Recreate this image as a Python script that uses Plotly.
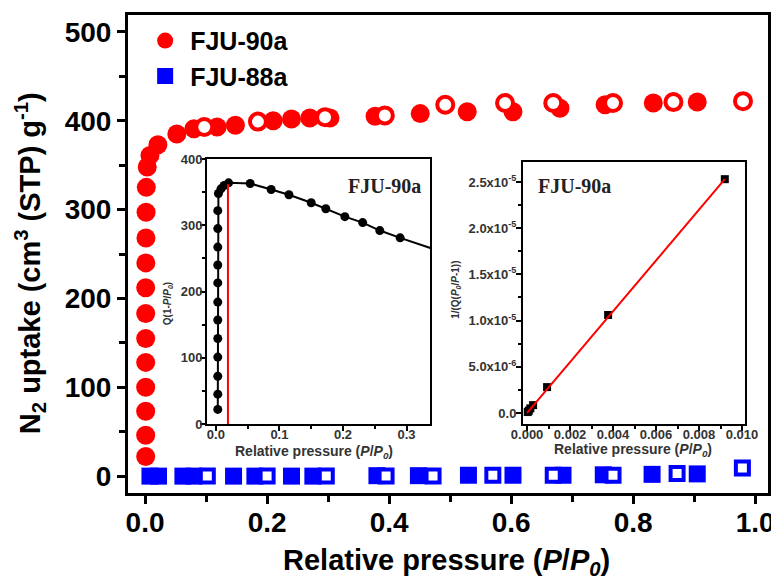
import plotly.graph_objects as go

# ---------------- data ----------------
# Main isotherm, FJU-90a (adsorption = filled, desorption = open)
fju90_ads_p = [0.0010, 0.0010, 0.0010, 0.0010, 0.0010, 0.0010, 0.0010, 0.0010, 0.0012, 0.0014,
               0.0016, 0.0020, 0.0035, 0.008, 0.021, 0.052, 0.080, 0.118, 0.148, 0.210,
               0.240, 0.270, 0.303, 0.377, 0.451, 0.528, 0.603, 0.680, 0.754, 0.833, 0.905]
fju90_ads_q = [22, 46, 73, 100, 128, 155, 183, 212, 240, 268,
               297, 325, 348, 361, 373, 385, 391, 393, 395, 400,
               402, 403, 403, 405, 408, 410, 410, 414, 418, 420, 421]
fju90_des_p = [0.097, 0.185, 0.295, 0.393, 0.492, 0.590, 0.669, 0.767, 0.866, 0.980]
fju90_des_q = [393, 399, 404, 406, 418, 420, 420, 420, 421, 422]

# Main isotherm, FJU-88a
fju88_ads_p = [0.008, 0.022, 0.062, 0.080, 0.145, 0.180, 0.240, 0.275, 0.380, 0.448,
               0.530, 0.603, 0.685, 0.751, 0.831, 0.905]
fju88_ads_q = [0, 0, 0, 0, 0, 0, 0, 0, 0.5, 0.5, 1, 1, 1, 1.5, 2, 2.5]
fju88_des_p = [0.102, 0.200, 0.297, 0.395, 0.472, 0.570, 0.669, 0.767, 0.872, 0.979]
fju88_des_q = [0, 0, 0, 0, 0, 1, 1, 1, 3, 9]

# Inset 1: Q(1-P/P0) vs P/P0
ins1_p = [0.003, 0.003, 0.003, 0.003, 0.003, 0.003, 0.003, 0.003, 0.003, 0.003,
          0.003, 0.003, 0.004, 0.008, 0.013, 0.020, 0.054, 0.087, 0.115, 0.150,
          0.173, 0.203, 0.231, 0.258, 0.290, 0.377]
ins1_q = [22, 45, 72, 101, 129, 157, 184, 213, 240, 267,
          295, 322, 348, 355, 360, 364, 363, 354, 346, 334,
          325, 313, 304, 292, 281, 253]
ins1_mark_p = [0.019, 0.019]
ins1_mark_q = [0, 362]

# Inset 2: BET plot 1/(Q(P0/P-1)) vs P/P0
ins2_p = [0.00003, 0.00008, 0.00015, 0.00028, 0.00093, 0.00377, 0.0092]
ins2_v = [1.0e-7, 2.5e-7, 5.0e-7, 8.5e-7, 2.8e-6, 1.06e-5, 2.53e-5]
ins2_fit_p = [0.0, 0.0092]
ins2_fit_v = [0.0, 2.53e-5]

main_xticks = [0.0, 0.2, 0.4, 0.6, 0.8, 1.0]
main_yticks = [0, 100, 200, 300, 400, 500]
ins1_xticks = [0.0, 0.1, 0.2, 0.3]
ins1_yticks = [0, 100, 200, 300, 400]
ins2_xticks = [0.000, 0.002, 0.004, 0.006, 0.008, 0.010]
ins2_xlabels = ["0.000", "0.002", "0.004", "0.006", "0.008", "0.010"]
ins2_yticks = [0.0, 5.0e-6, 1.0e-5, 1.5e-5, 2.0e-5, 2.5e-5]
ins2_ylabels = ["0.0", "5.0x10<sup>-6</sup>", "1.0x10<sup>-5</sup>", "1.5x10<sup>-5</sup>",
                "2.0x10<sup>-5</sup>", "2.5x10<sup>-5</sup>"]

RED = "#FF0000"
BLUE = "#0000FF"
SANS = "Liberation Sans, Arial, sans-serif"
SERIF = "Liberation Serif, Times New Roman, serif"
PP0 = "Relative pressure (<i>P</i>/<i>P</i><sub><i>0</i></sub>)"

fig = go.Figure()

# ---- main plot ----
fig.add_trace(go.Scatter(x=fju90_ads_p, y=fju90_ads_q, mode="markers", name="FJU-90a",
                         marker=dict(symbol="circle", size=19, color=RED, line=dict(width=0))))
fig.add_trace(go.Scatter(x=fju88_ads_p, y=fju88_ads_q, mode="markers", name="FJU-88a",
                         marker=dict(symbol="square", size=17, color=BLUE, line=dict(width=0))))
fig.add_trace(go.Scatter(x=fju90_des_p, y=fju90_des_q, mode="markers", showlegend=False,
                         marker=dict(symbol="circle", size=16, color="white",
                                     line=dict(width=4, color=RED))))
fig.add_trace(go.Scatter(x=fju88_des_p, y=fju88_des_q, mode="markers", showlegend=False,
                         marker=dict(symbol="square", size=13, color="white",
                                     line=dict(width=4, color=BLUE))))

# ---- inset 1 ----
fig.add_trace(go.Scatter(x=ins1_p, y=ins1_q, mode="lines+markers", showlegend=False,
                         xaxis="x2", yaxis="y2",
                         line=dict(color="black", width=2),
                         marker=dict(symbol="circle", size=9, color="black")))
fig.add_trace(go.Scatter(x=ins1_mark_p, y=ins1_mark_q, mode="lines", showlegend=False,
                         xaxis="x2", yaxis="y2", line=dict(color=RED, width=2)))

# ---- inset 2 ----
fig.add_trace(go.Scatter(x=ins2_p, y=ins2_v, mode="markers", showlegend=False,
                         xaxis="x3", yaxis="y3",
                         marker=dict(symbol="square", size=8, color="black")))
fig.add_trace(go.Scatter(x=ins2_fit_p, y=ins2_fit_v, mode="lines", showlegend=False,
                         xaxis="x3", yaxis="y3", line=dict(color=RED, width=2)))

main_font = dict(family=SANS, size=28, color="black", weight="bold")
ins_tick_font = dict(family=SANS, size=13, color="#333333", weight="bold")


def ax(**kw):
    base = dict(showline=True, mirror=True, linecolor="black", showgrid=False,
                zeroline=False, automargin=False, ticks="outside", tickcolor="black")
    base.update(kw)
    return base


# the page body has an 8 px margin, so the figure is drawn 8 px right and down
fig.update_layout(
    width=771, height=574,
    margin=dict(l=120, r=11, t=7, b=89),
    paper_bgcolor="white", plot_bgcolor="white",
    font=dict(family=SANS, color="black"),
    showlegend=True,
    legend=dict(x=0.019, y=0.994, xanchor="left", yanchor="top",
                bgcolor="rgba(0,0,0,0)", borderwidth=0,
                font=dict(family=SANS, size=25, color="black", weight="bold"),
                itemsizing="trace", itemwidth=40, tracegroupgap=0),
    xaxis=ax(domain=[0, 1], range=[-0.028, 1.021], tickvals=main_xticks,
             ticktext=[f"{v:.1f}" for v in main_xticks],
             ticklen=8, tickwidth=2.5, ticklabelstandoff=-6,
             minor=dict(dtick=0.1, tick0=0, ticks="outside", ticklen=6, tickwidth=2.5,
                        tickcolor="black"),
             linewidth=3, tickfont=main_font),
    yaxis=ax(domain=[0, 1], range=[-19, 519], tickvals=main_yticks,
             ticklen=8, tickwidth=2.5,
             minor=dict(dtick=50, tick0=0, ticks="outside", ticklen=6, tickwidth=2.5,
                        tickcolor="black"),
             linewidth=3, tickfont=main_font),
    xaxis2=ax(domain=[0.1234, 0.4719], anchor="y2", range=[-0.014, 0.337],
              tickvals=ins1_xticks, ticktext=[f"{v:.1f}" for v in ins1_xticks],
              ticklen=5, tickwidth=1.5, ticklabelstandoff=-8,
              minor=dict(dtick=0.05, tick0=0, ticks="outside", ticklen=3, tickwidth=1.5,
                         tickcolor="black"),
              linewidth=2, tickfont=ins_tick_font),
    yaxis2=ax(domain=[0.1444, 0.6987], anchor="x2", range=[0, 400],
              tickvals=ins1_yticks, ticklen=5, tickwidth=1.5, ticklabelstandoff=-5,
              minor=dict(dtick=50, tick0=0, ticks="outside", ticklen=3, tickwidth=1.5,
                         tickcolor="black"),
              linewidth=2, tickfont=ins_tick_font),
    xaxis3=ax(domain=[0.6172, 0.9641], anchor="y3", range=[-0.00019, 0.01014],
              tickvals=ins2_xticks, ticktext=ins2_xlabels, ticklen=5, tickwidth=1.5,
              ticklabelstandoff=-8,
              minor=dict(dtick=0.001, tick0=0, ticks="outside", ticklen=3, tickwidth=1.5,
                         tickcolor="black"),
              linewidth=2, tickfont=ins_tick_font),
    yaxis3=ax(domain=[0.1444, 0.6925], anchor="x3", range=[-1.19e-6, 2.716e-5],
              tickvals=ins2_yticks, ticktext=ins2_ylabels, ticklen=5, tickwidth=1.5,
              ticklabelstandoff=-3,
              minor=dict(dtick=2.5e-6, tick0=0, ticks="outside", ticklen=3, tickwidth=1.5,
                         tickcolor="black"),
              linewidth=2,
              tickfont=dict(family=SANS, size=13, color="#333333", weight="bold")),
    annotations=[
        # main axis titles
        dict(text=PP0, xref="paper", yref="paper", x=0.497, y=-0.144,
             xanchor="center", yanchor="middle", showarrow=False,
             font=dict(family=SANS, size=29, color="black", weight="bold")),
        dict(text="N<sub>2</sub> uptake (cm<sup>3</sup> (STP) g<sup>-1</sup>)",
             xref="paper", yref="paper", x=-0.153, y=0.481, textangle=-90,
             xanchor="center", yanchor="middle", showarrow=False,
             font=dict(family=SANS, size=29, color="black", weight="bold")),
        # inset 1 titles
        dict(text=PP0, xref="paper", yref="paper", x=0.291, y=0.086,
             xanchor="center", yanchor="middle", showarrow=False,
             font=dict(family=SANS, size=14, color="#333333", weight="bold")),
        dict(text="Q(1-<i>P</i>/<i>P</i><sub><i>0</i></sub>)",
             xref="paper", yref="paper", x=0.0625, y=0.395, textangle=-90,
             xanchor="center", yanchor="middle", showarrow=False,
             font=dict(family=SANS, size=10, color="#333333", weight="bold")),
        # inset 2 titles
        dict(text=PP0, xref="paper", yref="paper", x=0.789, y=0.09,
             xanchor="center", yanchor="middle", showarrow=False,
             font=dict(family=SANS, size=14, color="#333333", weight="bold")),
        dict(text="1/(Q(<i>P</i><sub><i>0</i></sub>/<i>P</i>-1))",
             xref="paper", yref="paper", x=0.5125, y=0.425, textangle=-90,
             xanchor="center", yanchor="middle", showarrow=False,
             font=dict(family=SANS, size=10, color="#333333", weight="bold")),
        # inset labels
        dict(text="FJU-90a", xref="x2 domain", yref="y2 domain", x=0.97, y=0.90,
             xanchor="right", yanchor="middle", showarrow=False,
             font=dict(family=SERIF, size=20, color="#222222", weight="bold")),
        dict(text="FJU-90a", xref="x3 domain", yref="y3 domain", x=0.06, y=0.91,
             xanchor="left", yanchor="middle", showarrow=False,
             font=dict(family=SERIF, size=20, color="#222222", weight="bold")),
    ],
)

fig.write_html("out.html")
